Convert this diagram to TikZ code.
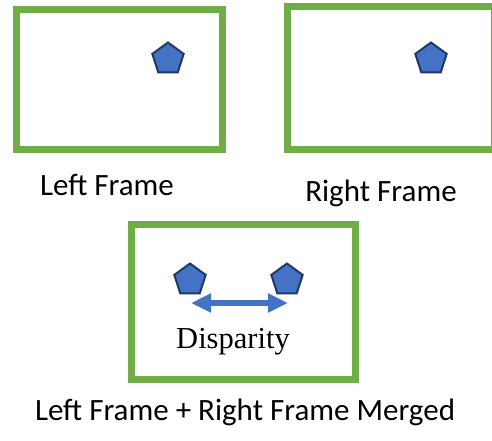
\documentclass[tikz,border=0pt]{standalone}
\usepackage{fontspec}
\setmainfont{Carlito}
\newfontfamily\serifft{Liberation Serif}
\usetikzlibrary{shapes.geometric,arrows.meta}
\definecolor{framegreen}{HTML}{70AD47}
\definecolor{pentblue}{HTML}{4472C4}
\definecolor{pentedge}{HTML}{1F3864}
\begin{document}
\begin{tikzpicture}[x=1pt,y=-1pt,
  frame/.style={draw=framegreen,line width=7pt},
  pent/.style={regular polygon,regular polygon sides=5,minimum size=33pt,inner sep=0pt,fill=pentblue,draw=pentedge,line width=2pt},
  label/.style={font=\fontsize{31}{36}\selectfont,inner sep=0pt,anchor=base},
  tip/.style={Triangle[length=20pt,width=18pt]}]
\useasboundingbox (0,0) rectangle (492,440);
\fill[white] (0,0) rectangle (492,440);
\draw[frame] (16.5,9) rectangle (222.5,149);
\draw[frame] (287.5,6.7) rectangle (494.5,149);
\draw[frame] (131.7,224.4) rectangle (355,379);
\node[pent] (pl) at (168,59) {};
\node[pent] (pr) at (431,59) {};
\node[pent] (ml) at (190,280) {};
\node[pent] (mr) at (287,280) {};
\coordinate (a1) at (191,303);
\coordinate (a2) at (288,303);
\draw[{Triangle[length=20pt,width=18pt]}-{Triangle[length=20pt,width=18pt]},draw=pentblue,line width=5.5pt] (a1) -- (a2);
\node[font=\serifft\fontsize{30.5}{34}\selectfont,inner sep=0pt,anchor=base] (dl) at (233,348) {Disparity};
\node[label] (lf) at (107,195) {Left Frame};
\node[label] (rf) at (381,201) {Right Frame};
\node[label] (mf) at (245,420) {Left Frame + Right Frame Merged};
\end{tikzpicture}
\end{document}
